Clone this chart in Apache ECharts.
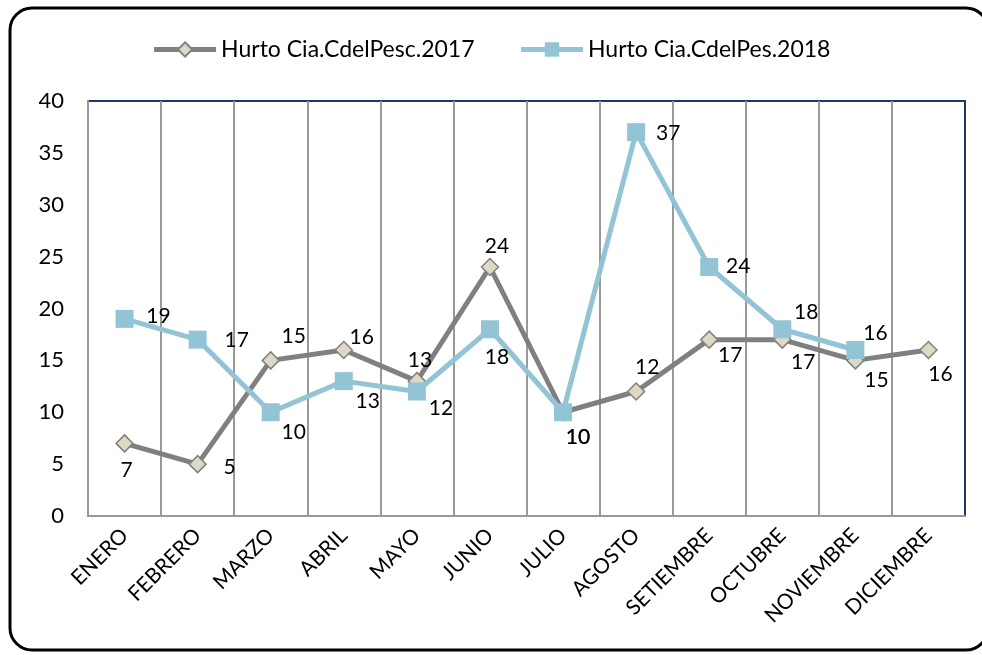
<!DOCTYPE html>
<html>
<head>
<meta charset="utf-8">
<script src="https://cdn.jsdelivr.net/npm/echarts@6/dist/echarts.min.js"></script>
<style>
  html, body { margin: 0; padding: 0; background: #fff; }
  #main { width: 982px; height: 655px; }
</style>
</head>
<body>
<div id="main"></div>
<script>
const months = ["ENERO", "FEBRERO", "MARZO", "ABRIL", "MAYO", "JUNIO", "JULIO",
  "AGOSTO", "SETIEMBRE", "OCTUBRE", "NOVIEMBRE", "DICIEMBRE"];
const hurto2017 = [7, 5, 15, 16, 13, 24, 10, 12, 17, 17, 15, 16];
const hurto2018 = [19, 17, 10, 13, 12, 18, 10, 37, 24, 18, 16, null];

// label offsets (px) relative to each marker
const off2017 = [[2, 27], [32, 3], [23, -24], [18, -13], [3, -21], [7, -21],
  [15, 25], [11, -24], [21, 16], [21, 23], [21, 20], [12, 24]];
const off2018 = [[34, -3], [39, 1], [23, 20], [24, 20], [24, 17], [7, 28],
  [15, 25], [32, 1], [29, -1], [24, -17], [20, -17], [0, 0]];

const font = "Lato, 'Open Sans', sans-serif";

function withLabels(values, offsets) {
  return values.map((v, i) => ({
    value: v,
    label: { offset: offsets[i] }
  }));
}

const chart = echarts.init(document.getElementById("main"));

const option = {
  animation: false,
  textStyle: { fontFamily: font },
  graphic: [{
    type: "rect",
    shape: { x: 10, y: 8, width: 978, height: 642, r: 22 },
    style: { fill: "none", stroke: "#000", lineWidth: 3 },
    z: 100
  }],
  legend: {
    top: 33,
    left: "center",
    itemWidth: 62,
    itemHeight: 18,
    itemGap: 44,
    lineStyle: { width: 5 },
    textStyle: { fontSize: 23, color: "#000", fontFamily: font },
    data: ["Hurto Cia.CdelPesc.2017", "Hurto Cia.CdelPes.2018"]
  },
  grid: {
    left: 88, right: 17, top: 101, bottom: 139,
    show: true,
    borderColor: "#1F3864",
    borderWidth: 2
  },
  xAxis: {
    type: "category",
    data: months,
    boundaryGap: true,
    axisLine: { lineStyle: { color: "#999", width: 2 } },
    axisTick: { show: false },
    splitLine: { show: true, lineStyle: { color: "#999", width: 2 } },
    axisLabel: {
      rotate: 45,
      interval: 0,
      fontSize: 21,
      color: "#000",
      margin: 16,
      fontFamily: font
    }
  },
  yAxis: [
    {
      type: "value",
      min: 0,
      max: 40,
      interval: 5,
      axisLine: { show: true, lineStyle: { color: "#999", width: 2 } },
      axisTick: { show: false },
      splitLine: { show: false },
      axisLabel: { fontSize: 22, color: "#000", margin: 24, fontFamily: font }
    },
    {
      type: "value",
      position: "right",
      min: 0,
      max: 40,
      interval: 5,
      axisLine: { show: true, lineStyle: { color: "#1F3864", width: 2 } },
      axisTick: { show: false },
      axisLabel: { show: false },
      splitLine: { show: false }
    }
  ],
  series: [
    {
      name: "Hurto Cia.CdelPesc.2017",
      type: "line",
      data: withLabels(hurto2017, off2017),
      symbol: "diamond",
      symbolSize: 17,
      lineStyle: { color: "#808080", width: 5 },
      itemStyle: { color: "#DDD9C3", borderColor: "#808080", borderWidth: 1.5 },
      label: { show: true, position: "inside", fontSize: 21, color: "#000", fontFamily: font },
      z: 2
    },
    {
      name: "Hurto Cia.CdelPes.2018",
      type: "line",
      data: withLabels(hurto2018, off2018),
      symbol: "rect",
      symbolSize: 18,
      lineStyle: { color: "#92C4D6", width: 5 },
      itemStyle: { color: "#92C4D6" },
      label: { show: true, position: "inside", fontSize: 21, color: "#000", fontFamily: font },
      z: 3
    }
  ]
};

chart.setOption(option);
</script>
</body>
</html>
